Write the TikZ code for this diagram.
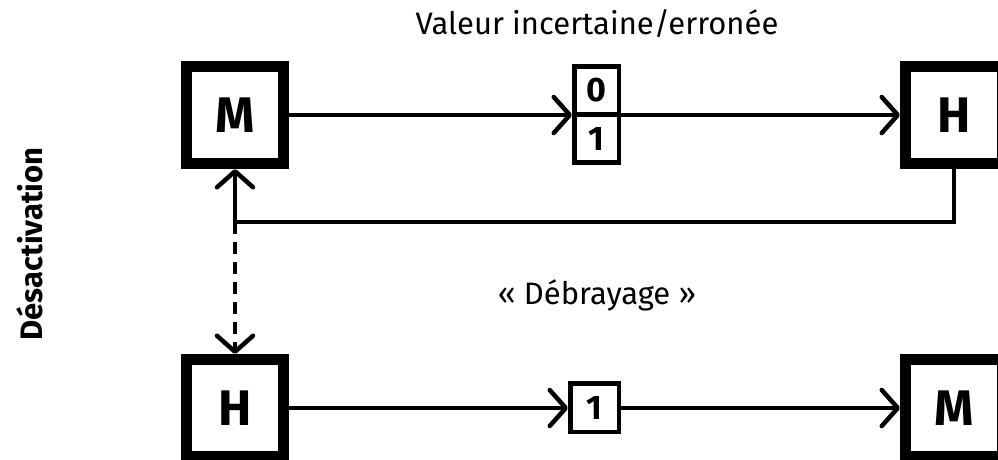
\documentclass[tikz,border=0pt]{standalone}
\usepackage{fontspec}
\setmainfont{Fira Sans}
\usetikzlibrary{arrows.meta,calc}
\begin{document}
\begin{tikzpicture}[x=1pt,y=-1pt,
  agent/.style={draw=black,line width=11pt,minimum width=97pt,minimum height=97pt,inner sep=0pt,fill=white,font=\fontsize{50}{50}\selectfont\bfseries},
  bitbox/.style={draw=black,line width=4.5pt,minimum width=44.5pt,minimum height=48.25pt,inner sep=0pt,font=\fontsize{34}{34}\selectfont\bfseries},
  tip/.style={-{Straight Barb[length=16pt,width=36pt,round]}},
  conn/.style={line width=4.5pt},
  lbl/.style={font=\fontsize{31}{31}\selectfont}
]
\useasboundingbox (0,0) rectangle (998,459);
\clip (0,0) rectangle (998,459);
\fill[white] (0,0) rectangle (998,459);

\node[agent] (M) at (235,115) {M};
\node[agent] (H) at (954,115) {H};
\node[agent] (H2) at (235,408) {H};
\node[agent] (M2) at (954,408) {M};

\node[bitbox] (b0) at (596.5,90.4) {0};
\node[bitbox] (b1) at (596.5,138.6) {1};
\node[bitbox,minimum width=48.5pt,minimum height=48.5pt] (one) at (594.5,407.5) {1};

\node[lbl] (t1) at (597,24) {Valeur incertaine/erronée};
\node[lbl] (t2) at (597,295) {« Débrayage »};
\node[lbl,font=\fontsize{31}{31}\selectfont\bfseries,rotate=90] (t3) at (30,244) {Désactivation};

\draw[conn,tip] (M.east) -- (M.east -| b1.west);
\draw[conn,tip] (H.west -| b1.east) -- (H.west);
\draw[conn,tip] (H.south) -- ++(0,53) coordinate (fbr) -| (M.south);
\coordinate (fbl) at (fbr -| M.south);
\draw[conn,tip,dash pattern=on 12pt off 8pt] (fbl) -- (H2.north);
\draw[conn,tip] (H2.east) -- (H2.east -| one.west);
\draw[conn,tip] (one.east |- M2.west) -- (M2.west);
\end{tikzpicture}
\end{document}
